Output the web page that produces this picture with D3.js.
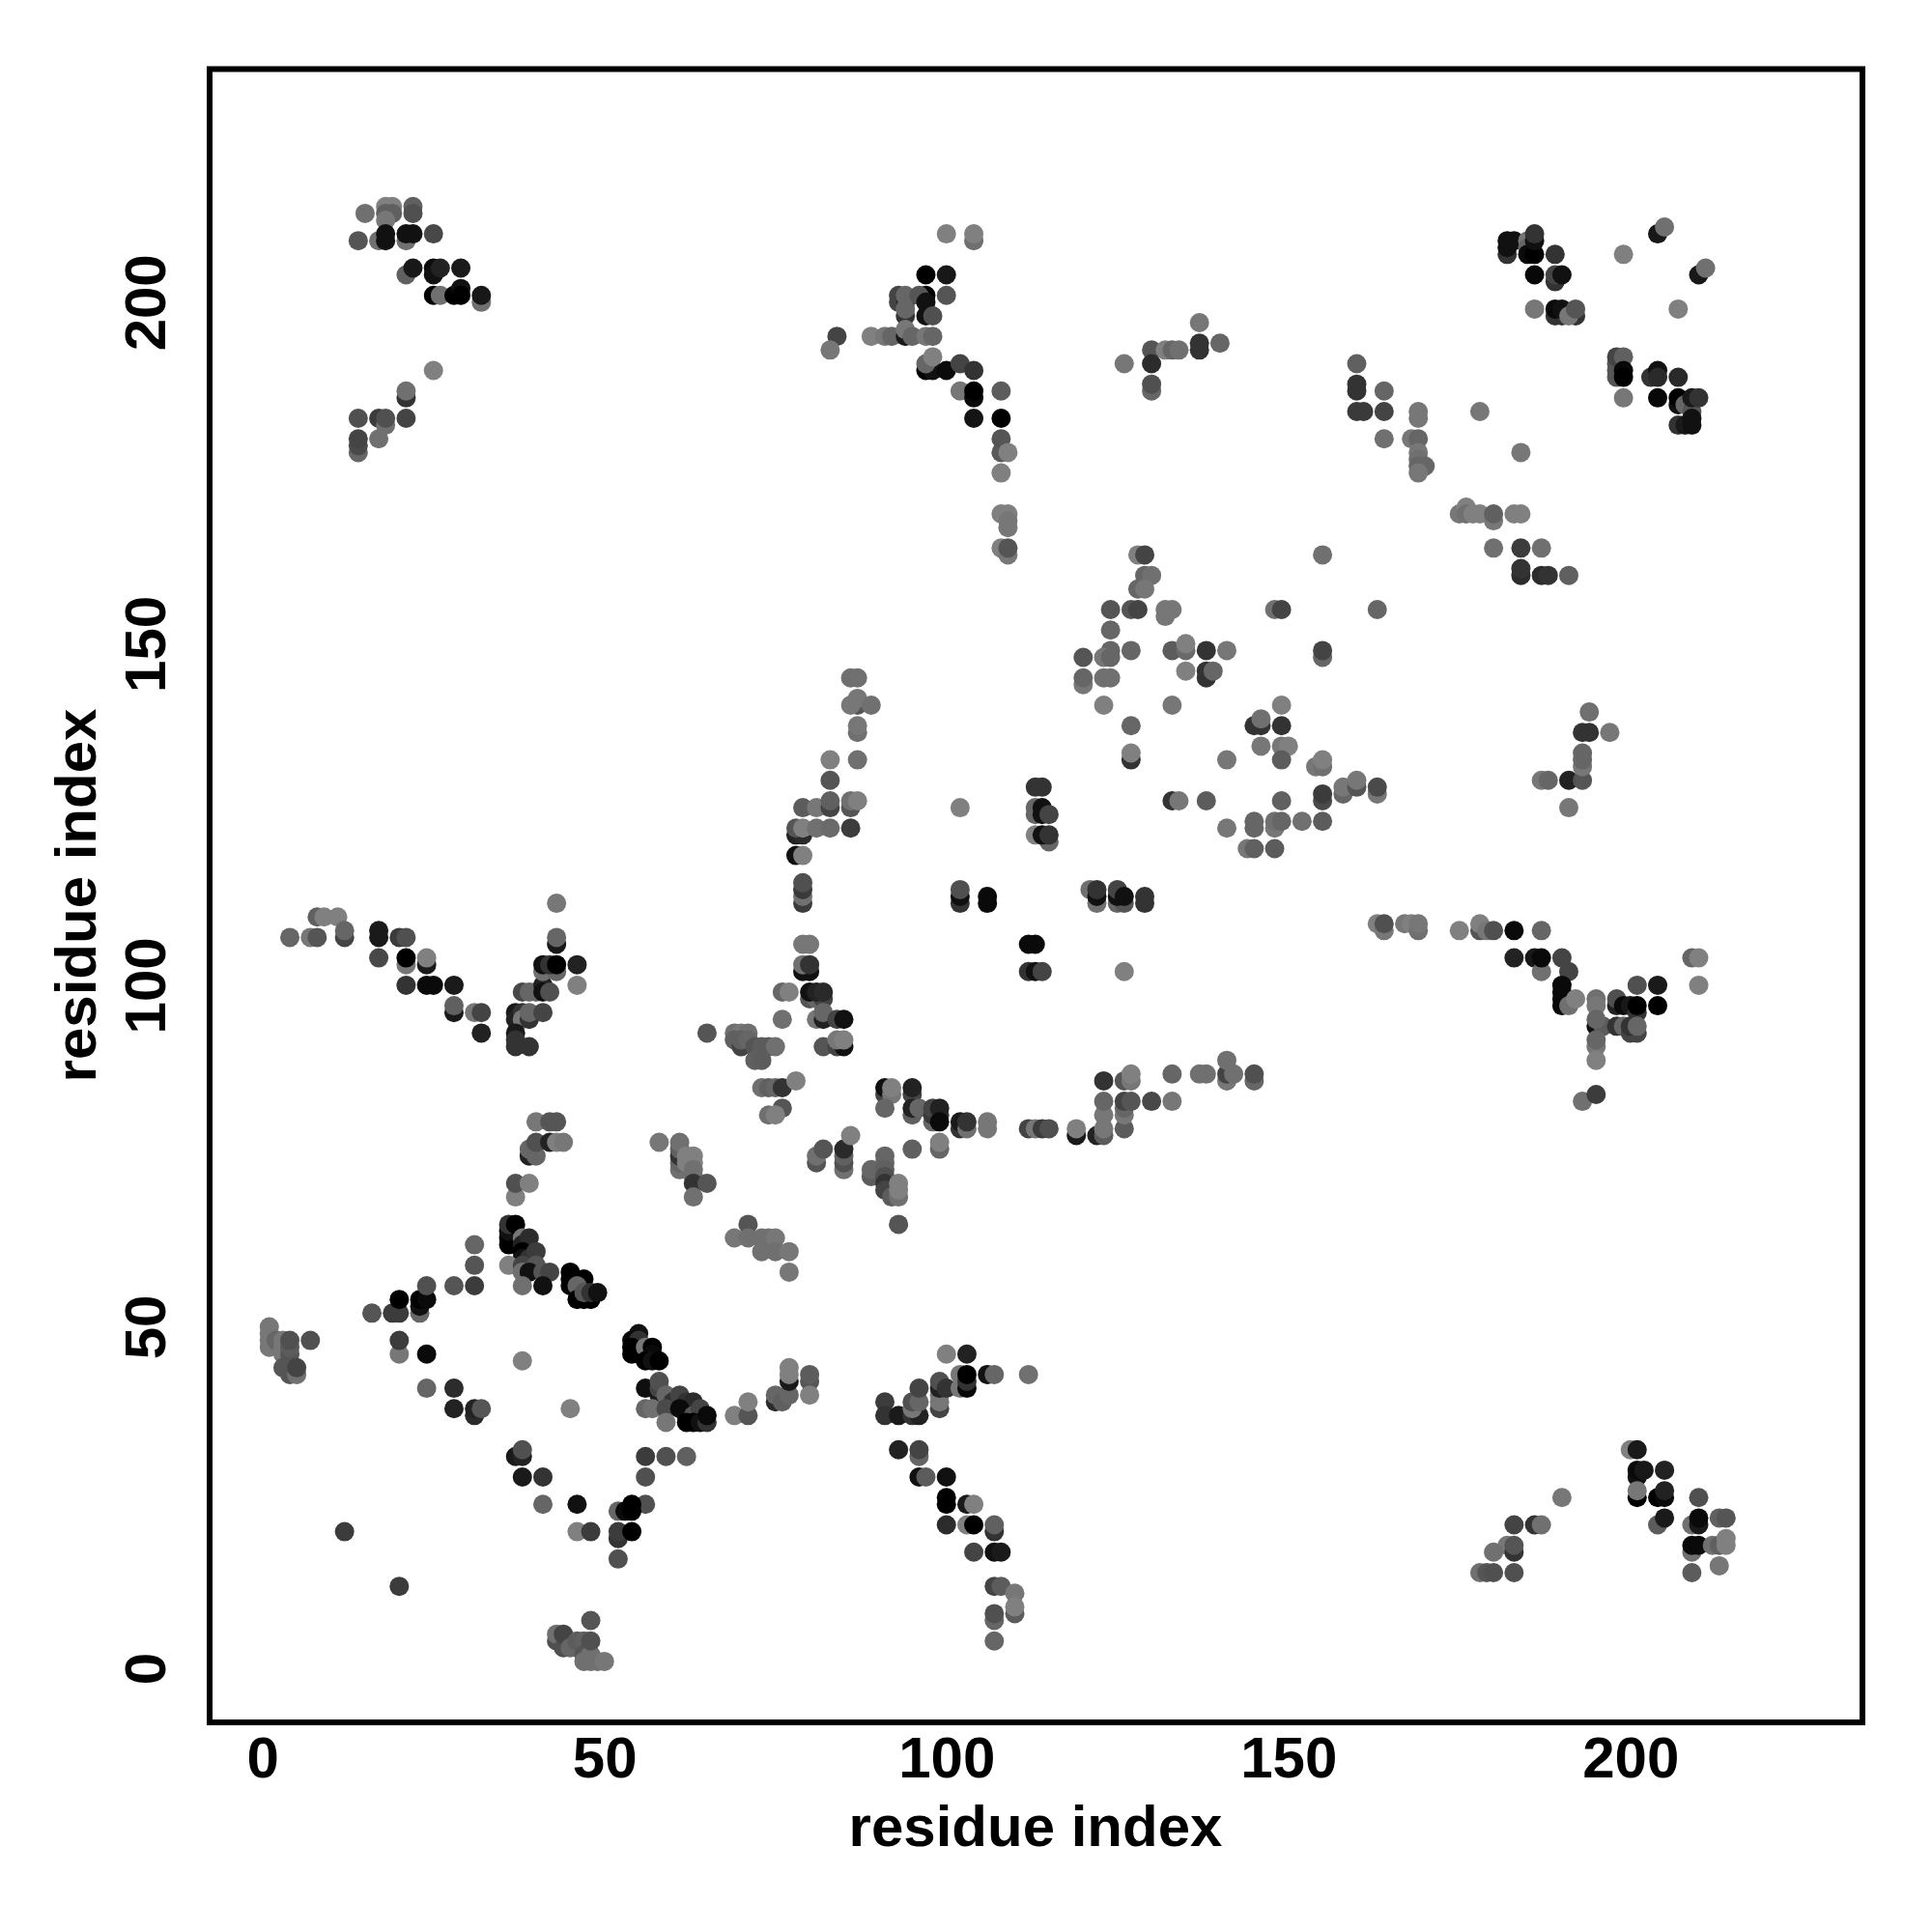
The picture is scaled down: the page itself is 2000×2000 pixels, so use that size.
<!DOCTYPE html>
<html><head><meta charset="utf-8">
<script src="https://cdn.jsdelivr.net/npm/d3@7"></script>
<style>html,body{margin:0;background:#fff}svg{display:block}</style>
</head><body><svg id="c" width="2000" height="2000"></svg>
<script>
// rows: residue x, residue y, grey level (0 black .. 128 mid grey)
const clusterTopLeft=[[15,213,112],[18,214,128],[19,214,128],[18,213,96],[19,213,96],[18,212,119],[17,209,112],[21,209,112],[18,210,17],[18,209,17],[14,209,85],[22,214,96],[22,213,80],[21,210,17],[22,210,17],[25,210,72],[21,204,96],[22,205,24],[25,205,10],[25,204,17],[26,205,34],[29,205,26],[25,201,0],[26,201,112],[28,201,0],[29,202,17],[29,201,0],[32,200,112],[32,201,24],[25,190,128],[21,186,51],[21,187,112],[14,183,80],[17,183,60],[18,182,112],[18,183,80],[21,183,68],[14,178,102],[14,179,74],[14,180,68],[17,180,112]];
const clusterTopMid=[[100,210,128],[104,209,112],[104,210,128],[97,204,0],[100,204,24],[100,201,85],[97,201,0],[93,201,68],[93,200,68],[94,200,51],[94,201,102],[96,201,85],[97,200,17],[97,198,17],[98,198,80],[94,198,51],[94,199,102],[84,195,68],[83,193,119],[89,195,128],[91,195,119],[92,195,102],[94,195,26],[94,196,119],[95,195,102],[97,195,119],[98,195,102],[97,190,0],[98,190,17],[97,191,102],[98,192,128],[100,190,10],[102,191,68],[104,190,51],[102,187,119],[104,186,10],[104,187,0],[108,187,92],[104,183,20],[108,183,0],[108,178,90],[108,180,85],[109,178,128],[108,175,128],[108,169,128],[109,169,128],[109,168,119],[109,167,119],[108,164,128],[109,163,119],[109,164,85],[126,191,119],[130,193,85],[130,191,44],[130,187,102],[130,188,80],[132,193,128],[133,193,102],[134,193,112],[137,197,119],[137,193,51],[137,194,51],[140,194,102]];
const clusterTopRight=[[182,207,51],[182,208,17],[182,209,17],[183,209,17],[185,209,119],[185,208,102],[185,207,10],[186,207,0],[186,209,17],[186,210,51],[189,207,51],[186,204,8],[189,203,51],[189,204,68],[190,204,17],[186,199,119],[189,198,51],[190,198,51],[189,199,10],[190,199,17],[192,198,51],[191,198,119],[192,199,85],[199,207,128],[204,210,24],[205,211,112],[207,199,128],[210,204,24],[211,205,112],[198,189,85],[198,190,85],[198,191,85],[198,192,68],[199,192,96],[199,190,8],[199,189,0],[199,186,119],[203,189,51],[204,190,17],[204,189,42],[207,189,42],[204,186,8],[207,185,17],[207,186,0],[208,185,102],[209,184,85],[209,186,26],[210,186,51],[207,182,51],[208,182,26],[209,182,17],[209,183,17]];
const clusterUpperRightMid=[[160,191,96],[160,188,51],[160,187,51],[160,184,58],[161,184,58],[164,187,102],[164,184,68],[164,180,112],[169,184,119],[169,183,119],[168,180,119],[169,180,102],[169,178,119],[169,177,112],[170,176,102],[169,176,102],[169,175,119],[178,184,119],[184,178,119],[175,169,119],[176,170,128],[176,169,112],[177,169,128],[178,169,128],[180,168,119],[180,169,96],[183,169,128],[184,169,128],[180,164,112],[184,164,60],[187,164,112],[184,160,44],[184,161,51],[187,160,44],[188,160,51],[191,160,96]];
const clusterCentre=[[128,163,128],[129,163,68],[129,160,102],[130,160,112],[128,158,102],[129,158,119],[155,163,112],[124,155,85],[127,155,85],[128,155,68],[132,154,119],[132,155,119],[133,155,119],[148,155,112],[149,155,68],[163,155,102],[124,152,102],[124,149,102],[127,149,102],[123,148,119],[124,148,102],[120,148,85],[133,149,92],[135,149,106],[135,150,128],[138,149,51],[141,149,119],[155,148,102],[155,149,68],[120,144,119],[120,145,102],[123,145,112],[124,145,112],[135,146,128],[138,145,51],[138,146,51],[139,146,102],[123,141,128],[133,141,119],[149,141,128],[127,138,102],[145,138,51],[146,138,51],[146,139,112],[149,138,51],[146,135,119],[149,135,119],[150,135,128],[127,133,51],[127,134,128],[141,133,119],[149,133,92],[154,132,119],[155,132,112],[155,133,128],[113,129,51],[114,129,51],[113,125,102],[113,126,102],[114,126,17],[114,125,17],[115,125,68],[115,121,102],[113,122,128],[114,122,17],[115,122,51],[133,127,51],[134,127,119],[138,127,92],[149,127,96],[155,127,74],[155,128,60],[158,128,102],[158,129,119],[160,129,85],[160,130,119],[163,128,119],[163,129,74],[141,123,119],[145,123,102],[145,124,102],[148,123,119],[148,124,112],[149,124,102],[152,124,112],[155,124,92],[144,120,119],[145,120,96],[148,120,92],[121,114,112],[122,112,112],[122,113,17],[122,114,51],[125,112,102],[126,112,85],[125,113,17],[125,114,68],[126,113,17],[129,112,51],[129,113,51],[187,130,119],[188,130,102],[191,130,34],[193,130,85],[193,132,119],[193,133,102],[193,134,102],[193,137,51],[194,137,51],[194,140,112],[197,137,119],[191,126,119]];
const clusterLeftMid=[[4,107,102],[7,107,119],[8,107,85],[8,110,96],[9,110,128],[11,110,128],[12,107,68],[12,108,102],[17,107,26],[17,108,26],[20,107,60],[21,107,80],[17,104,72],[21,103,119],[21,104,0],[24,103,26],[24,104,128],[21,100,51],[24,100,10],[25,100,10],[28,100,26],[28,96,26],[28,97,96],[31,96,119],[32,96,68],[32,93,34],[37,96,26],[37,95,34],[38,96,51],[38,95,119],[39,95,51],[39,96,102],[41,96,68],[37,93,26],[37,91,51],[37,92,51],[39,91,51],[38,99,72],[39,99,102],[40,99,102],[41,100,34],[41,99,17],[42,99,80],[41,102,112],[43,102,102],[41,103,17],[42,103,51],[43,103,0],[46,103,34],[46,100,128],[43,106,24],[43,107,102],[43,112,119]];
const clusterVerticalMid=[[86,145,112],[87,145,112],[87,141,85],[86,141,119],[87,142,119],[89,141,112],[87,137,112],[87,138,119],[83,133,128],[87,133,112],[83,130,85],[79,126,92],[81,126,119],[83,126,68],[83,127,96],[86,126,85],[86,127,112],[87,127,128],[78,122,34],[79,122,42],[78,123,85],[79,123,128],[81,123,112],[83,123,106],[86,123,60],[78,119,17],[79,119,128],[79,112,60],[79,113,112],[79,114,58],[79,115,80],[79,106,119],[80,106,119],[80,102,17],[79,102,17],[79,103,112],[80,103,51],[76,99,102],[77,99,128],[80,98,85],[81,98,102],[82,98,68],[80,99,17],[81,99,34],[82,99,42],[76,95,112],[81,95,119],[82,95,34],[82,96,102],[84,95,68],[85,95,17],[65,93,85],[82,91,85],[84,91,68],[85,91,17],[84,92,119],[85,92,128],[102,126,128],[102,112,51],[102,113,15],[102,114,80],[106,112,10],[106,113,10],[112,106,10],[113,106,10],[112,102,51],[113,102,17],[114,102,68],[126,102,128]];
const clusterRightMid=[[163,109,128],[164,108,119],[164,109,80],[167,109,119],[168,109,128],[169,108,112],[169,109,119],[175,108,128],[178,108,85],[178,109,128],[179,108,119],[180,108,80],[183,108,10],[187,108,102],[183,104,34],[186,104,24],[187,102,112],[187,104,10],[190,104,68],[191,102,68],[190,100,10],[190,99,10],[190,98,10],[190,97,8],[191,97,112],[192,98,128],[195,98,112],[195,97,119],[195,94,17],[196,94,92],[195,95,102],[198,97,34],[198,98,80],[199,97,10],[200,97,24],[201,96,51],[201,97,0],[201,100,80],[204,100,26],[204,97,0],[198,94,51],[199,94,102],[200,93,68],[201,93,68],[200,94,51],[201,94,102],[195,91,119],[195,92,102],[195,89,128],[193,83,112],[195,84,60],[209,104,102],[210,104,128],[210,100,128]];
const clusterLowerMid=[[69,93,112],[70,93,119],[71,93,112],[69,92,96],[70,91,68],[70,92,96],[71,92,102],[72,91,85],[73,91,92],[74,91,92],[75,91,112],[72,89,96],[73,89,92],[73,85,112],[74,85,96],[75,85,102],[76,85,51],[78,86,128],[76,82,85],[74,81,112],[75,81,128],[91,84,68],[91,85,17],[92,84,119],[92,85,128],[91,82,102],[95,84,68],[95,85,34],[95,81,96],[95,82,34],[96,82,102],[98,80,102],[98,81,58],[99,81,51],[98,82,68],[99,82,34],[99,80,10],[102,79,51],[102,80,26],[103,79,112],[103,80,51],[106,79,119],[106,80,119],[112,79,68],[113,79,119],[114,79,60],[115,79,80],[119,78,26],[119,79,128],[122,78,34],[123,78,92],[123,79,119],[123,81,119],[123,83,102],[123,86,51],[126,79,92],[126,81,119],[126,82,102],[126,83,68],[127,83,85],[126,86,85],[127,86,119],[127,87,128],[130,83,72],[133,83,119],[133,87,102],[137,87,112],[138,87,112],[141,86,119],[141,87,68],[141,89,112],[142,87,112],[145,86,102],[145,87,80],[58,77,119],[61,73,112],[61,74,102],[61,75,51],[61,76,96],[61,77,112],[62,74,128],[62,75,128],[63,75,128],[63,74,128],[63,73,112],[63,72,112],[63,71,51],[65,71,85],[63,69,112],[81,74,85],[81,75,112],[82,76,85],[85,73,112],[85,74,80],[85,75,96],[85,76,42],[86,78,128],[89,72,92],[89,73,102],[91,75,102],[91,74,102],[91,73,96],[91,72,80],[91,71,51],[91,70,68],[92,69,92],[93,69,112],[93,70,128],[93,71,128],[93,65,85],[95,76,96],[99,76,102],[99,77,128],[69,63,119],[71,65,85],[71,63,112],[73,63,112],[74,63,112],[75,63,119],[73,61,112],[75,61,112],[77,61,119],[77,58,119]];
const clusterLowerLeft=[[1,47,119],[1,48,119],[1,49,119],[1,50,119],[2,48,102],[3,46,119],[3,47,119],[3,48,119],[4,46,85],[4,47,92],[4,48,80],[3,44,85],[4,43,85],[4,44,85],[5,43,112],[5,44,68],[7,48,80],[16,52,85],[19,52,60],[20,52,60],[20,54,0],[23,52,102],[23,53,17],[23,54,0],[24,54,10],[24,56,80],[28,56,85],[31,56,60],[31,59,85],[31,62,102],[20,46,119],[20,48,60],[24,46,10],[24,41,102],[28,41,44],[28,38,34],[31,37,42],[31,38,34],[32,38,85],[38,45,128],[45,38,128],[37,31,26],[38,31,34],[38,32,80],[38,28,26],[41,28,51],[12,20,60],[20,12,60],[40,80,119],[42,80,85],[43,80,85],[39,75,34],[40,75,102],[39,76,102],[40,77,80],[42,77,34],[43,77,128],[44,77,119],[37,69,128],[37,71,80],[39,71,128],[36,62,0],[36,63,0],[36,64,17],[36,65,51],[37,65,0],[38,63,119],[38,62,34],[39,63,44],[38,61,0],[38,60,17],[39,60,51],[40,61,60],[36,59,128],[38,59,68],[40,59,85],[38,58,112],[39,58,17],[41,58,85],[42,58,68],[38,56,112],[41,56,17],[45,56,0],[45,57,0],[45,58,0],[47,57,0],[46,56,102],[46,54,0],[47,54,0],[48,54,0],[47,55,85],[48,55,51],[49,55,17]];
const clusterLowerCentre=[[55,49,17],[54,48,10],[55,48,51],[54,46,0],[54,47,0],[55,46,0],[56,47,119],[57,47,0],[57,46,10],[56,45,0],[57,45,17],[58,45,0],[56,41,15],[58,40,26],[58,41,68],[58,42,80],[59,40,102],[60,39,51],[61,40,68],[62,39,51],[63,39,42],[56,38,102],[57,38,112],[59,38,74],[61,38,10],[62,37,10],[63,37,85],[64,38,68],[59,36,119],[62,36,0],[63,36,0],[64,36,17],[65,36,51],[65,37,10],[69,37,128],[71,37,85],[71,39,128],[75,39,42],[75,40,102],[76,39,96],[77,40,102],[77,42,26],[77,43,128],[77,44,128],[80,42,85],[80,43,92],[80,40,128],[91,39,60],[91,37,51],[93,37,26],[95,37,51],[96,37,34],[95,38,119],[95,39,80],[96,39,102],[96,41,68],[99,38,68],[99,39,119],[99,40,119],[99,41,34],[99,42,80],[100,41,51],[102,41,119],[102,43,119],[103,41,10],[103,42,51],[103,43,0],[100,46,128],[103,46,34],[106,43,17],[107,43,102],[112,43,112],[93,32,34],[96,31,102],[96,32,68],[96,28,17],[97,28,92],[100,28,17],[100,25,0],[100,24,0],[103,24,26],[104,24,128],[100,21,44],[103,21,128],[104,21,0],[107,20,51],[107,21,96],[104,17,68],[107,17,17],[108,17,26],[107,12,68],[108,12,92],[110,11,119],[110,8,92],[110,9,128],[107,7,102],[107,8,80],[107,4,102],[56,31,60],[59,31,80],[62,31,96],[56,28,80],[56,24,80],[52,23,102],[53,23,10],[54,23,0],[54,24,0],[52,19,51],[52,20,60],[54,20,0],[52,16,80],[41,24,102],[46,24,17],[46,20,128],[48,20,60],[48,7,85],[43,4,80],[43,5,112],[44,3,80],[44,5,68],[45,3,102],[46,3,102],[46,4,92],[47,4,96],[47,2,85],[47,1,112],[48,1,112],[48,2,112],[48,4,80],[49,1,112],[50,1,119]];
const clusterLowerRight=[[190,25,119],[183,21,68],[186,21,51],[187,21,112],[182,18,119],[183,17,51],[183,18,85],[180,17,112],[178,14,112],[179,14,85],[180,14,80],[183,14,80],[200,32,128],[201,32,26],[201,28,17],[201,29,10],[202,29,24],[205,29,34],[201,25,0],[201,26,119],[204,25,0],[205,25,10],[205,26,34],[204,21,92],[205,22,26],[210,25,80],[209,21,112],[210,21,26],[210,22,10],[213,22,96],[214,22,85],[209,17,112],[209,18,10],[210,18,10],[212,18,112],[213,18,96],[214,18,128],[214,19,128],[213,15,119],[209,14,92]];
const xTickValues=[0,50,100,150,200];
const yTickValues=[0,50,100,150,200];
const axisTitle="residue index";

const contacts=[clusterTopLeft,clusterTopMid,clusterTopRight,clusterUpperRightMid,clusterCentre,clusterLeftMid,clusterVerticalMid,clusterRightMid,clusterLowerMid,clusterLowerLeft,clusterLowerCentre,clusterLowerRight].flat();

const svg=d3.select("#c");
const font='"Liberation Sans",Arial,sans-serif';
const x=d3.scaleLinear().domain([-7.73,233.8]).range([217,1927]);
const y=d3.scaleLinear().domain([-7.78,234.2]).range([1782,71]);
const grey=d3.scaleLinear().domain([0,128]).range(["#000000","#808080"]);

svg.append("g").selectAll("circle").data(contacts).join("circle")
  .attr("cx",d=>x(d[0])).attr("cy",d=>y(d[1])).attr("r",10).attr("fill",d=>grey(d[2]));

svg.append("rect").attr("x",217).attr("y",71.5).attr("width",1711).attr("height",1711.5)
  .attr("fill","none").attr("stroke","#000").attr("stroke-width",6);

const gx=svg.append("g").attr("transform","translate(0,1782)")
  .call(d3.axisBottom(x).tickValues(xTickValues).tickSize(0).tickPadding(15));
gx.select(".domain").remove();
gx.selectAll("text").attr("font-family",font).attr("font-weight","bold").attr("font-size",60).attr("fill","#000");

const gy=svg.append("g").attr("transform","translate(217,0)")
  .call(d3.axisLeft(y).tickValues(yTickValues).tickSize(0));
gy.select(".domain").remove();
gy.selectAll("text")
  .attr("font-family",font).attr("font-weight","bold").attr("font-size",60).attr("fill","#000")
  .attr("text-anchor","middle").attr("dy",0).attr("x",null)
  .attr("transform",d=>`translate(-46,0) rotate(-90)`);

svg.append("text").attr("x",1072).attr("y",1911).attr("text-anchor","middle")
  .attr("font-family",font).attr("font-weight","bold").attr("font-size",60).text(axisTitle);
svg.append("text").attr("transform","translate(99,927) rotate(-90)").attr("text-anchor","middle")
  .attr("font-family",font).attr("font-weight","bold").attr("font-size",60).text(axisTitle);
</script></body></html>
